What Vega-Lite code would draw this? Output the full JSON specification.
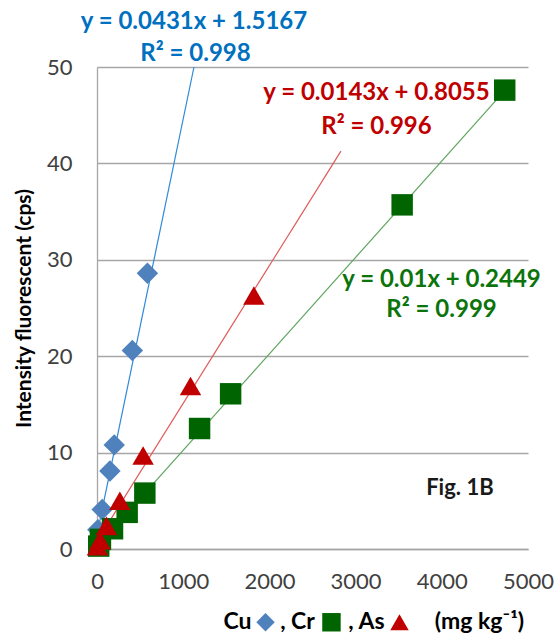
{
  "$schema": "https://vega.github.io/schema/vega-lite/v6.json",
  "width": 431,
  "height": 482,
  "autosize": "none",
  "padding": {"left": 97, "top": 67, "right": 31, "bottom": 92},
  "background": "white",
  "config": {
    "view": {"stroke": null},
    "font": "Lato",
    "axis": {"labelFont": "Lato", "titleFont": "Lato"}
  },
  "datasets": {
    "points": [
      {"series": "Cu", "conc": 10, "cps": 2.0},
      {"series": "Cu", "conc": 60, "cps": 4.1},
      {"series": "Cu", "conc": 150, "cps": 8.1},
      {"series": "Cu", "conc": 200, "cps": 10.8},
      {"series": "Cu", "conc": 410, "cps": 20.6},
      {"series": "Cu", "conc": 585, "cps": 28.6},
      {"series": "Cr", "conc": 20, "cps": 0.3},
      {"series": "Cr", "conc": 40, "cps": 1.0},
      {"series": "Cr", "conc": 180, "cps": 2.1},
      {"series": "Cr", "conc": 350, "cps": 3.8},
      {"series": "Cr", "conc": 555, "cps": 5.8},
      {"series": "Cr", "conc": 1190, "cps": 12.5},
      {"series": "Cr", "conc": 1550, "cps": 16.1},
      {"series": "Cr", "conc": 3540, "cps": 35.7},
      {"series": "Cr", "conc": 4730, "cps": 47.6},
      {"series": "As", "conc": 5, "cps": 0.3},
      {"series": "As", "conc": 35, "cps": 0.9},
      {"series": "As", "conc": 110, "cps": 2.4},
      {"series": "As", "conc": 265, "cps": 5.0},
      {"series": "As", "conc": 535, "cps": 9.7},
      {"series": "As", "conc": 1085, "cps": 16.9},
      {"series": "As", "conc": 1820, "cps": 26.3}
    ],
    "fits": [
      {"series": "Cu", "conc": 0, "cps": 1.5167},
      {"series": "Cu", "conc": 1125, "cps": 50},
      {"series": "Cr", "conc": 0, "cps": 0.2449},
      {"series": "Cr", "conc": 4730, "cps": 47.55},
      {"series": "As", "conc": 0, "cps": 0.8055},
      {"series": "As", "conc": 2830, "cps": 41.27}
    ],
    "equations": [
      {"series": "Cu", "conc": 1125, "cps": 54.7, "label": "y = 0.0431x + 1.5167"},
      {"series": "Cu", "conc": 1142, "cps": 51.4, "label": "R² = 0.998"},
      {"series": "As", "conc": 3242, "cps": 47.3, "label": "y = 0.0143x + 0.8055"},
      {"series": "As", "conc": 3242, "cps": 43.8, "label": "R² = 0.996"},
      {"series": "Cr", "conc": 3997, "cps": 27.9, "label": "y = 0.01x + 0.2449"},
      {"series": "Cr", "conc": 3997, "cps": 24.8, "label": "R² = 0.999"}
    ],
    "xtitle": [
      {"conc": 1630, "cps": -7.6, "label": "Cu"},
      {"conc": 2326, "cps": -7.6, "label": ", Cr"},
      {"conc": 3126, "cps": -7.6, "label": ", As"},
      {"conc": 4437, "cps": -7.6, "label": "(mg kg⁻¹)"}
    ],
    "xsymbols": [
      {"series": "Cu", "conc": 1955, "cps": -7.6},
      {"series": "Cr", "conc": 2720, "cps": -7.6},
      {"series": "As", "conc": 3509, "cps": -7.6}
    ],
    "figlabel": [
      {"conc": 4210, "cps": 6.3, "label": "Fig. 1B"}
    ]
  },
  "encoding": {
    "x": {
      "field": "conc", "type": "quantitative",
      "scale": {"domain": [0, 5000], "nice": false, "zero": false},
      "axis": {
        "values": [0, 1000, 2000, 3000, 4000, 5000],
        "format": "d",
        "grid": false, "ticks": false,
        "domain": true, "domainColor": "#A6A6A6", "domainWidth": 1.3,
        "labelFontSize": 22, "labelColor": "#404040", "labelPadding": 22,
        "labelFlush": false,
        "title": null
      }
    },
    "y": {
      "field": "cps", "type": "quantitative",
      "scale": {"domain": [0, 50], "nice": false},
      "axis": {
        "values": [0, 10, 20, 30, 40, 50],
        "format": "d",
        "grid": true, "gridColor": "#A6A6A6", "gridWidth": 1.3,
        "ticks": false,
        "domain": true, "domainColor": "#A6A6A6", "domainWidth": 1.3,
        "labelFontSize": 22, "labelColor": "#404040", "labelPadding": 25,
        "labelFlush": false,
        "title": "Intensity fluorescent (cps)",
        "titleFontSize": 21, "titleFontWeight": "bold", "titleColor": "#000000",
        "titlePadding": 12
      }
    }
  },
  "layer": [
    {
      "data": {"name": "fits"},
      "mark": {"type": "line", "strokeWidth": 1.2},
      "encoding": {
        "detail": {"field": "series"},
        "color": {
          "field": "series", "type": "nominal", "legend": null,
          "scale": {"domain": ["Cu", "Cr", "As"], "range": ["#2E8AD8", "#5FA55F", "#E05A5A"]}
        }
      }
    },
    {
      "data": {"name": "points"},
      "mark": {"type": "point", "filled": true, "opacity": 1, "size": 460},
      "encoding": {
        "shape": {
          "field": "series", "type": "nominal", "legend": null,
          "scale": {"domain": ["Cu", "Cr", "As"], "range": ["diamond", "square", "triangle-up"]}
        },
        "color": {
          "field": "series", "type": "nominal", "legend": null,
          "scale": {"domain": ["Cu", "Cr", "As"], "range": ["#4F81BD", "#006400", "#C00000"]}
        }
      }
    },
    {
      "data": {"name": "xsymbols"},
      "mark": {"type": "point", "filled": true, "opacity": 1, "size": 340},
      "encoding": {
        "shape": {
          "field": "series", "type": "nominal", "legend": null,
          "scale": {"domain": ["Cu", "Cr", "As"], "range": ["diamond", "square", "triangle-up"]}
        },
        "color": {
          "field": "series", "type": "nominal", "legend": null,
          "scale": {"domain": ["Cu", "Cr", "As"], "range": ["#4F81BD", "#006400", "#C00000"]}
        }
      }
    },
    {
      "data": {"name": "equations"},
      "mark": {"type": "text", "fontWeight": "bold", "fontSize": 24, "align": "center", "baseline": "middle"},
      "encoding": {
        "text": {"field": "label"},
        "color": {
          "field": "series", "type": "nominal", "legend": null,
          "scale": {"domain": ["Cu", "Cr", "As"], "range": ["#0070C0", "#0B740B", "#C00000"]}
        }
      }
    },
    {
      "data": {"name": "xtitle"},
      "mark": {"type": "text", "fontWeight": "bold", "fontSize": 23, "align": "center", "baseline": "middle", "color": "#000000"},
      "encoding": {"text": {"field": "label"}}
    },
    {
      "data": {"name": "figlabel"},
      "mark": {"type": "text", "fontWeight": "bold", "fontSize": 22, "align": "center", "baseline": "middle", "color": "#1a1a1a"},
      "encoding": {"text": {"field": "label"}}
    }
  ],
  "resolve": {"scale": {"color": "independent"}}
}
